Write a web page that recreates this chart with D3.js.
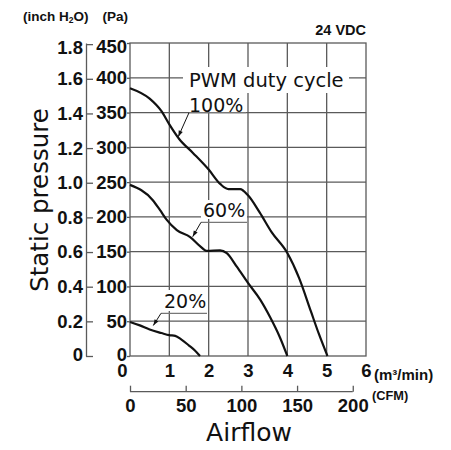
<!DOCTYPE html>
<html><head><meta charset="utf-8">
<script src="https://cdn.jsdelivr.net/npm/d3@7"></script>
<style>body{margin:0;background:#fff}</style>
</head><body>
<svg id="c" width="451" height="450"></svg>
<script>
// ---- data ----
const flowTicks = [0,1,2,3,4,5,6];
const cfmTicks = [0,50,100,150,200];
const paTicks = [0,50,100,150,200,250,300,350,400,450];
const inchTicks = [0,0.2,0.4,0.6,0.8,1.0,1.2,1.4,1.6,1.8];
const inchLabels = ["0","0.2","0.4","0.6","0.8","1.0","1.2","1.4","1.6","1.8"];
// airflow (m3/min), static pressure (Pa)
const flow100 = [0,0.5,0.8,1.0,1.25,1.6,2.0,2.3,2.5,2.8,3.0,3.3,3.6,4.0,4.3,4.6,4.8,5.02];
const pres100 = [385,370,352,333,312,292,268,247,240,240,231,206,178,148,112,64,32,0];
const flow60 = [0,0.58,0.76,0.93,1.19,1.53,1.78,1.96,2.29,2.46,2.72,3.0,3.31,3.56,3.81,4.0];
const pres60 = [246,224,210,196,181,171,158,151,152,148,128,105,81,56,27,0];
const flow20 = [0,0.25,0.5,0.8,1.0,1.15,1.3,1.5,1.65,1.78];
const pres20 = [49,44,38,33,30,29,24,15,8,0];
const seriesLabels = ["100%","60%","20%"];

const svg = d3.select("#c");
const x = d3.scaleLinear([0,6],[130,366]);
const y = d3.scaleLinear([0,450],[356,43]);
const xC = d3.scaleLinear([0,6*35.3147],[130,366]);
const yI = d3.scaleLinear([0,450/249.089],[356,43]);
const grid = "#5a5a5a";
const tickFont = "'Liberation Sans',Arial,sans-serif";

// grid
const g = svg.append("g");
g.selectAll(".v").data(flowTicks.slice(1,-1)).join("line")
  .attr("x1",d=>x(d)).attr("x2",d=>x(d)).attr("y1",y(450)).attr("y2",y(0))
  .attr("stroke",grid).attr("stroke-width",1.3);
g.selectAll(".h").data(paTicks.slice(1,-1)).join("line")
  .attr("x1",x(0)).attr("x2",x(6)).attr("y1",d=>y(d)).attr("y2",d=>y(d))
  .attr("stroke",grid).attr("stroke-width",1.3);
g.append("rect").attr("x",x(0)).attr("y",y(450)).attr("width",x(6)-x(0)).attr("height",y(0)-y(450))
  .attr("fill","none").attr("stroke",grid).attr("stroke-width",1.3);

function styleAxis(sel){
  sel.selectAll("text").attr("font-family",tickFont).attr("font-weight","bold")
     .attr("font-size",18.5).attr("fill","#111");
  sel.selectAll("line").attr("stroke",grid).attr("stroke-width",1.3);
  sel.select(".domain").attr("stroke",grid).attr("stroke-width",1.3);
}

// Pa axis
const aPa = svg.append("g").attr("transform",`translate(${x(0)},0)`)
  .call(d3.axisLeft(y).tickValues(paTicks).tickSize(3).tickPadding(0).tickFormat(d3.format("d")));
aPa.select(".domain").remove();
styleAxis(aPa);
aPa.selectAll(".tick text").filter(d=>d===450).attr("dy","0.5em");
aPa.selectAll(".tick text").filter(d=>d===0).attr("dy","0.22em");

// inch axis
const aIn = svg.append("g").attr("transform","translate(86,0)")
  .call(d3.axisLeft(yI).tickValues(inchTicks).tickSizeInner(-7).tickSizeOuter(0).tickPadding(3)
    .tickFormat((d,i)=>inchLabels[i]));
styleAxis(aIn);
aIn.selectAll(".tick text").filter(d=>d===1.8).attr("dy","0.5em");
aIn.selectAll(".tick text").filter(d=>d===0).attr("dy","0.22em");

// flow axis
const aF = svg.append("g").attr("transform",`translate(0,${y(0)})`)
  .call(d3.axisBottom(x).tickValues(flowTicks).tickSize(0).tickPadding(7.5).tickFormat(d3.format("d")));
aF.select(".domain").remove();
styleAxis(aF);
aF.selectAll(".tick text").filter(d=>d===0).attr("x",-8);

// CFM axis
const aC = svg.append("g").attr("transform","translate(0,391.7)")
  .call(d3.axisBottom(xC).tickValues(cfmTicks).tickSizeInner(-6).tickSizeOuter(0).tickPadding(6.8).tickFormat(d3.format("d")));
aC.select(".domain").remove();
aC.append("line").attr("x1",xC(0)).attr("x2",xC(200)).attr("stroke",grid);
styleAxis(aC);

// unit labels
const small = "'Liberation Sans',Arial,sans-serif";
const t1 = svg.append("text").attr("x",23).attr("y",21).attr("font-family",small)
  .attr("font-weight","bold").attr("font-size",13.5).attr("fill","#111");
t1.append("tspan").text("(inch H");
t1.append("tspan").text("2").attr("font-size",8.5).attr("dy",2);
t1.append("tspan").text("O)").attr("dy",-2);
svg.append("text").attr("x",128).attr("y",21).attr("text-anchor","end").attr("font-family",small)
  .attr("font-weight","bold").attr("font-size",13.5).attr("fill","#111").text("(Pa)");
svg.append("text").attr("x",366).attr("y",35).attr("text-anchor","end").attr("font-family",small)
  .attr("font-weight","bold").attr("font-size",14.5).attr("fill","#111").text("24 VDC");
svg.append("text").attr("x",374).attr("y",379.5).attr("font-family",small)
  .attr("font-weight","bold").attr("font-size",15).attr("fill","#111").text("(m³/min)");
svg.append("text").attr("x",372).attr("y",399.5).attr("font-family",small)
  .attr("font-weight","bold").attr("font-size",12.8).attr("fill","#111").text("(CFM)");

// axis titles
const big = "'DejaVu Sans',sans-serif";
svg.append("text").attr("x",249).attr("y",441).attr("text-anchor","middle").attr("font-family",big)
  .attr("font-size",25).attr("fill","#111").text("Airflow");
svg.append("text").attr("transform","translate(48,200) rotate(-90)").attr("text-anchor","middle")
  .attr("font-family",big).attr("font-size",24.5).attr("fill","#111").text("Static pressure");

// white label boxes
const boxes = [[183,67,166,26],[183,93,64,18],[201,200,46,19],[159,290,48,21]];
svg.selectAll(".bx").data(boxes).join("rect")
  .attr("x",d=>d[0]).attr("y",d=>d[1]).attr("width",d=>d[2]).attr("height",d=>d[3]).attr("fill","#fff");

svg.append("text").attr("x",189).attr("y",87.3).attr("font-family",big).attr("font-size",19.5)
  .attr("fill","#111").text("PWM duty cycle");

// curves
const line = d3.line().x(d=>x(d[0])).y(d=>y(d[1])).curve(d3.curveMonotoneX);
const curves = [d3.zip(flow100,pres100), d3.zip(flow60,pres60), d3.zip(flow20,pres20)];
svg.selectAll(".crv").data(curves).join("path")
  .attr("d",line).attr("fill","none").attr("stroke","#111").attr("stroke-width",2.2);

// series labels with leaders
const lab = [
  {t:seriesLabels[0], tx:189, ty:111.5, ux1:189, ux2:246, uy:112.7, ax:178.3, ay:136.7},
  {t:seriesLabels[1], tx:203, ty:216.5, ux1:201, ux2:247, uy:222.3, ax:192.7, ay:236.7},
  {t:seriesLabels[2], tx:164, ty:308.3, ux1:161, ux2:207, uy:313.3, ax:153.3, ay:325.5}
];
svg.selectAll(".lt").data(lab).join("text").attr("x",d=>d.tx).attr("y",d=>d.ty)
  .attr("font-family",big).attr("font-size",19).attr("fill","#111").text(d=>d.t);
svg.selectAll(".ul").data(lab).join("line").attr("x1",d=>d.ux1).attr("x2",d=>d.ux2)
  .attr("y1",d=>d.uy).attr("y2",d=>d.uy).attr("stroke","#777").attr("stroke-width",1.3);
svg.selectAll(".ld").data(lab).join("line").attr("x1",d=>d.ux1).attr("y1",d=>d.uy)
  .attr("x2",d=>d.ax).attr("y2",d=>d.ay).attr("stroke","#111").attr("stroke-width",1);
svg.selectAll(".ah").data(lab).join("path").attr("fill","#111").attr("d",d=>{
  const dx=d.ux1-d.ax, dy=d.uy-d.ay, L=Math.hypot(dx,dy), ux=dx/L, uy=dy/L;
  const len=6, w=2.2;
  const bx=d.ax+ux*len, by=d.ay+uy*len;
  return `M${d.ax},${d.ay}L${bx-uy*w},${by+ux*w}L${bx+uy*w},${by-ux*w}Z`;
});
</script>
</body></html>
